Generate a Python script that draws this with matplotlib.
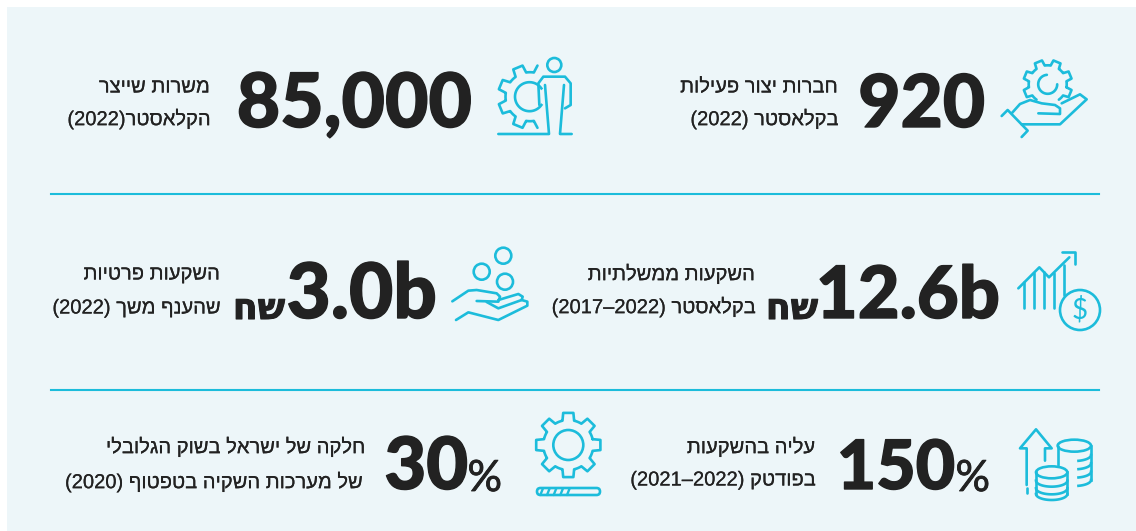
import re
import numpy as np
import matplotlib
matplotlib.use("Agg")
import matplotlib.pyplot as plt
import matplotlib.patheffects as pe
from matplotlib.patches import Circle, Ellipse, FancyBboxPatch

# the numbers and their labels, logical order (right to left)
values_top = ["920", "85,000"]
values_mid = ["12.6b", "3.0b"]
values_bot = ["150", "30"]
currency = "שח"
percent = "%"
labels_top = [["חברות יצור פעילות", "בקלאסטר (2022)"], ["משרות שייצר", "הקלאסטר(2022)"]]
labels_mid = [["השקעות ממשלתיות", "בקלאסטר (2022–2017)"], ["השקעות פרטיות", "שהענף משך (2022)"]]
labels_bot = [["עליה בהשקעות", "בפודטק (2022–2021)"], ["חלקה של ישראל בשוק הגלובלי", "של מערכות השקיה בטפטוף (2020)"]]

INK = "#222222"
CY = "#1cbcdb"
BG = "#edf6f9"
HEB = "Liberation Sans"
NUM = "Lato"


def vis(s):
    # matplotlib has no bidi, so put hebrew in visual order by hand
    s = s[::-1]
    s = re.sub(r"\d+", lambda m: m.group(0)[::-1], s)
    return s.translate(str.maketrans("()", ")("))


def fat(w):
    return [pe.withStroke(linewidth=w, foreground=INK)]


fig = plt.figure(figsize=(11.36, 5.31), dpi=100, facecolor="white")
ax = fig.add_axes([0, 0, 1, 1])
ax.set_xlim(0, 1136)
ax.set_ylim(531, 0)
ax.axis("off")
ax.add_patch(plt.Rectangle((7, 7), 1129, 524, fc=BG, ec="none"))
ax.plot([51, 1099], [194, 194], color=CY, lw=1.5)
ax.plot([51, 1099], [390, 390], color=CY, lw=1.5)


def big(x, y, s, size=55):
    ax.text(x, y, s, ha="right", va="baseline", family=NUM, weight="black", size=size, color=INK,
            path_effects=fat(1.0))


def label(x, y1, y2, lines, size=14.5, x2=None):
    ax.text(x, y1, vis(lines[0]), ha="right", va="center", family=HEB, size=size, color=INK, path_effects=fat(0.12))
    ax.text(x if x2 is None else x2, y2, vis(lines[1]), ha="right", va="center", family=HEB, size=size, color=INK,
            path_effects=fat(0.12))


def pl(ox, oy, pts, s=3.0, lw=1.9):
    p = np.array(pts, float)
    ax.plot(ox + p[:, 0] / s, oy + p[:, 1] / s, color=CY, lw=lw, solid_capstyle="round", solid_joinstyle="round")


def gear(cx, cy, r_out, r_in, n, start=0.0, keep=None, lw=1.9):
    step = 2 * np.pi / n
    xs, ys = [], []
    for i in range(n):
        b = start + i * step
        a = [b - step * 0.30, b - step * 0.20, b + step * 0.20, b + step * 0.30]
        r = [r_in, r_out, r_out, r_in]
        xs += list(cx + np.array(r) * np.cos(a))
        ys += list(cy + np.array(r) * np.sin(a))
        # root arc to the next tooth
        t = np.linspace(b + step * 0.30, b + step * 0.70, 6)[1:-1]
        xs += list(cx + r_in * np.cos(t))
        ys += list(cy + r_in * np.sin(t))
    xs.append(xs[0])
    ys.append(ys[0])
    xs = np.array(xs)
    ys = np.array(ys)
    if keep is not None:
        m = keep(xs, ys)
        xs = np.where(m, xs, np.nan)
        ys = np.where(m, ys, np.nan)
    ax.plot(xs, ys, color=CY, lw=lw, solid_joinstyle="round", solid_capstyle="round")


def ring(cx, cy, r, lw=1.9):
    ax.add_patch(Circle((cx, cy), r, fc="none", ec=CY, lw=lw))


# top row
big(985, 127, values_top[0], 52.5)
label(838, 87, 119, labels_top[0])
big(472, 127, values_top[1], 54)
label(210, 87, 119, labels_top[1])

# middle row
big(1000, 318, values_mid[0], 52)
big(437, 318, values_mid[1], 55)
for x in (818, 285):
    ax.text(x, 319, vis(currency), ha="right", va="baseline", family="DejaVu Sans", weight="bold", size=26,
            color=INK, path_effects=fat(0.8))
label(755, 274, 307, labels_mid[0])
label(220, 274, 308, labels_mid[1])

# bottom row
big(955, 489, values_bot[0], 49)
big(468, 489, values_bot[1], 52)
for x in (990, 502):
    ax.text(x, 491, percent, ha="right", va="baseline", family="Lato", size=31, color=INK, path_effects=fat(0.6))
label(815, 447, 480, labels_bot[0])
label(365, 447, 482, labels_bot[1], x2=362)

# icon: gear in hand
ox, oy = 980, 40
gear(1047.7, 84.3, 24.5, 19, 8, start=np.pi / 8, keep=lambda x, y: y < 100)
t = np.radians(np.linspace(0, 265, 40))
ax.plot(1047.7 + 9.5 * np.cos(t), 84.3 + 9.5 * np.sin(t), color=CY, lw=1.9, solid_capstyle="round")
pl(ox, oy, [(65, 228), (83, 210), (143, 272), (125, 291)])
pl(ox, oy, [(95, 220), (120, 192), (150, 180), (185, 190), (225, 195), (240, 205), (240, 222), (175, 220)])
pl(ox, oy, [(125, 253), (240, 253), (320, 178), (300, 163), (245, 190)])

# icon: person and gear
ox, oy = 480, 50
gear(530, 96.7, 32, 24.5, 8, start=np.pi / 8, keep=lambda x, y: x < 538)
t = np.radians(np.linspace(35, 325, 50))
ax.plot(529.5 + 14.5 * np.cos(t), 96.7 + 14.5 * np.sin(t), color=CY, lw=1.9)
ring(554.3, 65, 7)
pl(ox, oy, [(178, 165), (175, 100), (190, 80), (255, 80), (272, 100), (272, 165), (255, 175)])
pl(ox, oy, [(195, 105), (207, 252), (55, 252)])
pl(ox, oy, [(252, 105), (240, 252), (275, 252)])

# icon: chart and coin
ox, oy = 1000, 240
pl(ox, oy, [(55, 145), (118, 82), (147, 112), (208, 52)])
pl(ox, oy, [(187, 35), (225, 35), (225, 72)])
for bx, top, bot in zip([72, 102, 132, 162, 192], [127, 100, 97, 100, 75], [205, 205, 205, 205, 165]):
    pl(ox, oy, [(bx, top), (bx, bot)])
ring(1080, 310, 20)
ax.text(1080, 310, "$", ha="center", va="center", family="Lato", size=20, color=CY)

# icon: hand with coins
ox, oy = 440, 240
ring(503.3, 255.7, 8)
ring(481.7, 271.7, 8)
ring(505, 281.7, 8)
pl(ox, oy, [(37, 184), (85, 152), (110, 150), (170, 160), (180, 170), (175, 185), (110, 183)])
pl(ox, oy, [(175, 180), (235, 162), (248, 170), (245, 180), (175, 205), (140, 186)])
pl(ox, oy, [(245, 180), (262, 185), (262, 197), (175, 240), (85, 217), (48, 240)])

# icon: arrow and coin stacks
ox, oy = 1005, 420
pl(ox, oy, [(65, 195), (65, 85), (45, 85), (93, 28), (140, 85), (120, 85), (120, 122)])
pl(ox, oy, [(65, 205), (65, 220)])


def stack(cx, top, bottom, rx, ry, bands, right_only=False):
    ax.add_patch(Ellipse((ox + cx / 3, oy + top / 3), 2 * rx / 3, 2 * ry / 3, fc="none", ec=CY, lw=1.9))
    t = np.linspace(0, np.pi, 40)
    if right_only:
        t = np.linspace(0, np.pi * 0.42, 20)
    for b in bands + [bottom]:
        ax.plot(ox + (cx + rx * np.cos(t)) / 3, oy + (b + ry * np.sin(t)) / 3, color=CY, lw=1.9)
    ax.plot([ox + (cx + rx) / 3] * 2, [oy + top / 3, oy + bottom / 3], color=CY, lw=1.9)
    if not right_only:
        ax.plot([ox + (cx - rx) / 3] * 2, [oy + top / 3, oy + bottom / 3], color=CY, lw=1.9)


stack(208, 77, 180, 50, 18, [105, 130, 155], right_only=True)
pl(ox, oy, [(158, 77), (158, 135)])
stack(140, 157, 222, 47, 18, [182, 205])

# icon: gear with progress bar
ox, oy = 520, 405
gear(568.3, 445, 32.5, 25, 8, start=0)
ring(568.3, 445, 15)
ax.add_patch(FancyBboxPatch((537, 488), 63, 7, boxstyle="round,pad=0,rounding_size=3.5", fc="none", ec=CY, lw=1.9))
for hx in [65, 85, 105, 125, 145]:
    pl(ox, oy, [(hx + 4, 250), (hx - 4, 270)], lw=1.7)

fig.savefig("out.png", dpi=100)
